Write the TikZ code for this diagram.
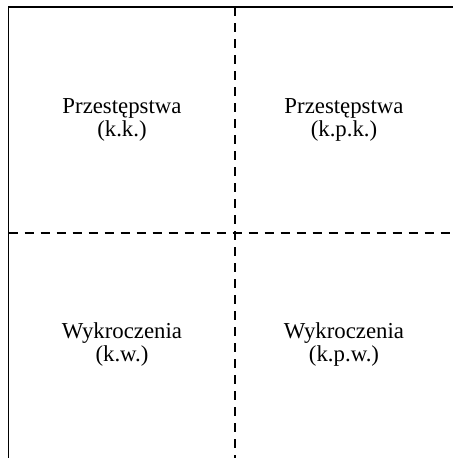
\documentclass[tikz,border=0pt]{standalone}
\usepackage{fontspec}
\setmainfont{Liberation Serif}
\usetikzlibrary{positioning}
\newcommand{\quadfont}{\fontsize{22.8}{23}\selectfont}
\tikzset{
  legend/.style={align=center, font=\quadfont, inner sep=2pt},
  border/.style={black, line width=1.8pt},
  split/.style={black, line width=1.6pt, dash pattern=on 9pt off 7pt}
}
\begin{document}
\begin{tikzpicture}[x=1pt,y=-1pt]
      \useasboundingbox (0,0) rectangle (453,458);
      \coordinate (TL) at (8.5,7);
      \coordinate (TR) at (453,7);
      \coordinate (BL) at (8.5,458);
      \coordinate (TM) at (235,7);
      \coordinate (BM) at (235,458);
      \coordinate (ML) at (8.5,233);
      \coordinate (MR) at (453,233);

      % frame
      \draw[border] (BL) -- (TL) -- (TR);
      \draw[split] (TM) -- (BM);
      \draw[split] (ML) -- (MR);

      \node[legend] (kk) at (122,120) {Przestępstwa\\(k.k.)};
      \node[legend] (kpk) at (344,120) {Przestępstwa\\(k.p.k.)};
      \node[legend] (kw) at (122,345) {Wykroczenia\\(k.w.)};
      \node[legend] (kpw) at (344,345) {Wykroczenia\\(k.p.w.)};
    \end{tikzpicture}
\end{document}
